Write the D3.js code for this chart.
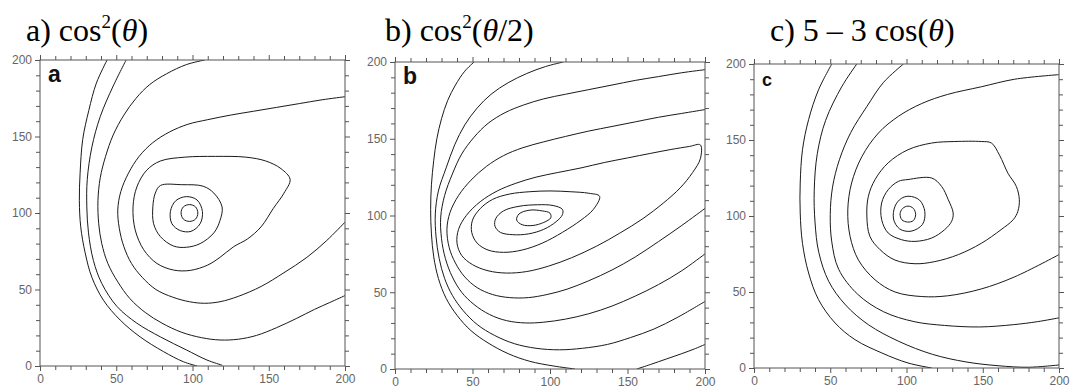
<!DOCTYPE html>
<html>
<head>
<meta charset="utf-8">
<script src="https://cdn.jsdelivr.net/npm/d3@7"></script>
<style>
  html, body { margin: 0; padding: 0; background: #fff; }
  svg { display: block; }
</style>
</head>
<body>
<div id="chart"></div>
<script>
// axis range shared by all three panels
const axisDomain = [0, 200];
const tickStep = 10;
const majorTicks = [0, 50, 100, 150, 200];

// ---- panel a: cos^2(theta) ----  contour lines, [x, y]
const a1 = [[44,200],[37,185],[32,167],[28,148],[26.3,126],[25.8,108],[26.7,91],[29.6,74],[34,58],[41.6,43],[52.6,30],[65.7,19],[81,9.4],[94,2.8],[103,0]];
const a2 = [[56.5,200],[48,183],[39.5,163],[34,143],[31,122],[30.7,104],[31.8,87],[35,69],[40.5,54],[50.4,39],[63.5,28],[79,19],[96,10.5],[109.5,3.9],[119.5,0.5]];
const a3 = [[108,200],[96,197],[83,191],[72,184],[63,175],[55,164],[48,151],[43,137],[39.5,123],[38,108],[38.5,93],[40.5,80],[44.5,67],[51,55],[59,44],[69,35],[80,28],[93,22],[106,18.5],[118,17],[130,17.5],[142,20],[155,25],[168,31],[180,37],[190,41.5],[200,46]];
const a4 = [[200,176],[185,174],[170,171.5],[155,169],[140,166.5],[125,164],[110,161],[97,158],[85,153],[74,146],[65,137],[58,126],[53,114],[51,102],[52,90],[55,78],[60,67],[67,58],[76,50],[87,45],[98,42],[108,41],[118,42],[130,45.5],[145,52],[160,61],[175,71],[188,82],[200,94]];
const a5 = [[79,134],[95,136.5],[115,137],[135,136.5],[148,134],[158,129],[164,122],[160,113],[153,103],[145,91],[136,83],[127,78],[118,71],[110,66],[98.6,62.5],[87.6,62.7],[76.7,67],[68,76],[62.4,89],[61,104],[63.5,117],[70,128]];
const a6 = [[79,118],[93,118.5],[107,117.5],[114,113],[119.4,104],[118,95],[114,87],[105,80],[96,77.6],[87.6,78.4],[79,84.5],[74.5,93],[74,104],[75.6,113]];
const a7 = [[96,110.7],[103,108.5],[106.5,101],[105,93],[99,88],[92,88.5],[86.5,93],[85.5,101],[89,108]];
const a8 = [[98,105.5],[102,104],[103.5,100],[102,96],[98,94.5],[94,96],[92.5,100],[94,104]];

// ---- panel b: cos^2(theta/2) ----
const b1 = [[51,200],[45,194],[39,185],[34,175],[30,163],[27,150],[25,136],[23.5,120],[23,104],[23.5,88],[25,73],[28,59],[33,46],[40,35],[49,25],[60,17],[73,10],[87,5],[102,2],[116,0]];
const b2 = [[108.5,200],[97,197],[85,192.5],[73,186.5],[62,179],[53,170],[45,159],[38.5,146],[33,131],[28,116],[26,101],[26.5,86],[28.5,72],[32,59],[37,48],[44,38],[53,29],[64,22],[77,16.5],[91,13.5],[106,12.5],[121,13.5],[137,16],[152,20.5],[167,26],[182,33.5],[200,44]];
const b3 = [[200,195],[185,193],[170,190.5],[155,188],[140,185],[125,182],[110,179],[96,176],[83,172],[71,167],[60,160],[51,151],[43,140],[37,127],[32,113],[29.5,99],[30,85],[32.5,72],[37,60],[43,50],[51,42],[61,35.5],[72,31.5],[84,30],[96,30.5],[110,32.5],[125,36],[140,41],[155,47.5],[170,55],[185,64],[200,75]];
const b4 = [[200,169],[185,166.5],[170,164],[155,161],[140,158],[125,155],[110,151.5],[96,148],[82,144],[70,139],[59,132],[49,123],[41,113],[35.5,102],[33.5,91],[35,79],[39,69],[45,60],[53,53],[63,48.5],[74,46.5],[86,46.5],[98,48.5],[111,52],[125,57.5],[140,64.5],[155,73],[170,83],[185,93.5],[200,104.6]];
const b5 = [[197,146],[190,145],[178,143],[165,140.5],[150,137.5],[135,134.5],[120,131],[105,128],[91,125],[78,121],[66,116],[55,109],[46,100],[41,91],[40,82],[43,74],[50,68],[60,64],[72,62.5],[85,63.5],[99,67],[114,72.5],[130,80],[145,88.5],[160,98],[173,108],[184,118],[192,128],[197,137]];
const b6 = [[132,112.5],[125,114.5],[113,115.5],[100,116],[87,115.5],[74,114],[63,110.5],[55,104.5],[50,97],[49.5,89],[53,82],[60,77.5],[70,76],[82,77.5],[95,82],[108,89],[120,97],[128,104]];
const b7 = [[108,104],[102,106.5],[92,107],[80,106],[70,103],[65,98],[64.5,93],[68,89],[76,87.5],[86,88],[96,91],[104,96],[108,100.5]];
const b8 = [[100,101.5],[95,103],[87,103.5],[80,101],[78.5,97],[82,94],[89,93.5],[96,95.5],[100.5,98.5]];
const b9 = [[156,0],[165,3],[175,6.5],[185,10],[193,13],[200,16]];

// ---- panel c: 5 - 3 cos(theta) ----
const c1 = [[51,200],[42.3,183],[35.8,163.4],[31.8,143.6],[30.3,121.7],[30.3,102],[31.8,82],[35.8,62.5],[42.3,45],[53.2,29.6],[66.3,18.6],[83.8,9.9],[101,3.3],[116.5,0]];
const c2 = [[67.4,200],[57.5,185],[47,163],[41.5,141],[39.5,117],[40,96],[42.5,76],[49,57],[60,41.5],[75,28.5],[95,17.5],[117,9],[139,4],[160,1.5],[180,0.5],[200,2]];
const c3 = [[98,200],[85,188],[74,172],[63.5,155],[56,137],[51.5,119],[50,101],[51,83],[55.5,65],[68,48.5],[85,37],[105,30.5],[125,28],[148,27],[170,28.5],[186,30.5],[200,33]];
const c4 = [[200,193],[171,190],[149,185],[127,180],[110,174],[94.7,165.6],[81.6,154.6],[70.7,139],[64,121.7],[61.5,104],[63,86.6],[68.5,71],[79.4,58],[92.5,50],[110,47],[127,47.5],[149,52],[171,60],[200,74.6]];
const c5 = [[149,149],[155.7,148],[161,140],[166.6,128],[172,119.5],[174,110.7],[173,103],[170,97.6],[162,91],[149,82],[134,74.6],[118.6,70],[105.6,68.6],[92.5,71],[82.7,77.8],[76,86.6],[74,100],[75,113],[79.4,124],[88,135],[101,143.6],[116.5,148],[131.7,149]];
const c6 = [[101,124],[116.5,125],[123,119.5],[127.4,110.7],[130.6,102],[129.6,96.5],[125,91],[116.5,85.5],[105.6,83.3],[96.8,84.4],[88,88.8],[83.7,97.6],[83.7,108.6],[88,117.3],[94.7,122.8]];
const c7 = [[101.6,113],[108.5,110.5],[112,103],[110.5,94.5],[103,90],[95.5,91.5],[91.5,98],[92.5,106.5],[96.5,111.5]];
const c8 = [[101,106.5],[104.5,105],[106,101],[104.5,97],[100.8,96],[97,97.5],[95.8,101.5],[97.5,105]];

const panelA = { open: [a1, a2, a3, a4], closed: [a5, a6, a7, a8] };
const panelB = { open: [b1, b2, b3, b4, b9], closed: [b5, b6, b7, b8] };
const panelC = { open: [c1, c2, c3, c4], closed: [c5, c6, c7, c8] };

const W = 1071, H = 389;

const svg = d3.select('#chart').append('svg')
  .attr('width', W)
  .attr('height', H);

const panels = [
  { id: 'a', box: { left: 40, right: 345, top: 60, bottom: 366 }, data: panelA,
    title: [{ t: 'a) cos' }, { t: '2', sup: true }, { t: '(' }, { t: '\u03b8', it: true }, { t: ')' }],
    titleX: 26, letterSize: 23 },
  { id: 'b', box: { left: 395, right: 705, top: 62, bottom: 369 }, data: panelB,
    title: [{ t: 'b) cos' }, { t: '2', sup: true }, { t: '(' }, { t: '\u03b8', it: true }, { t: '/2)' }],
    titleX: 385, letterSize: 23 },
  { id: 'c', box: { left: 754, right: 1059, top: 64, bottom: 368 }, data: panelC,
    title: [{ t: 'c) 5 \u2013 3 cos(' }, { t: '\u03b8', it: true }, { t: ')' }],
    titleX: 770, letterSize: 18 }
];

const allTicks = d3.range(axisDomain[0], axisDomain[1] + 1, tickStep);
const minorTicks = allTicks.filter(v => !majorTicks.includes(v));

panels.forEach(p => {
  const b = p.box;
  const x = d3.scaleLinear().domain(axisDomain).range([b.left, b.right]);
  const y = d3.scaleLinear().domain(axisDomain).range([b.bottom, b.top]);

  const g = svg.append('g').attr('class', 'panel-' + p.id);

  // clip contours to the plot square
  svg.append('clipPath').attr('id', 'clip-' + p.id)
    .append('rect')
    .attr('x', b.left).attr('y', b.top)
    .attr('width', b.right - b.left).attr('height', b.bottom - b.top);

  const openLine = d3.line().x(d => x(d[0])).y(d => y(d[1])).curve(d3.curveCatmullRom);
  const closedLine = d3.line().x(d => x(d[0])).y(d => y(d[1])).curve(d3.curveCatmullRomClosed);

  const cg = g.append('g').attr('clip-path', 'url(#clip-' + p.id + ')');
  cg.selectAll('path.open').data(p.data.open).enter().append('path')
    .attr('class', 'open')
    .attr('d', openLine)
    .attr('fill', 'none')
    .attr('stroke', '#1a1a1a')
    .attr('stroke-width', 1);
  cg.selectAll('path.closed').data(p.data.closed).enter().append('path')
    .attr('class', 'closed')
    .attr('d', closedLine)
    .attr('fill', 'none')
    .attr('stroke', '#1a1a1a')
    .attr('stroke-width', 1);

  // axes: minor + major ticks on all four sides, labels bottom and left only
  const axes = [
    { gen: d3.axisBottom, scale: x, tr: `translate(0,${b.bottom})`, labels: true },
    { gen: d3.axisLeft, scale: y, tr: `translate(${b.left},0)`, labels: true },
    { gen: d3.axisTop, scale: x, tr: `translate(0,${b.top})`, labels: false },
    { gen: d3.axisRight, scale: y, tr: `translate(${b.right},0)`, labels: false }
  ];
  axes.forEach(a => {
    g.append('g').attr('transform', a.tr)
      .call(a.gen(a.scale).tickValues(minorTicks).tickSize(4).tickFormat(''))
      .call(s => s.select('.domain').remove());
    const major = g.append('g').attr('transform', a.tr)
      .call(a.gen(a.scale).tickValues(majorTicks).tickSize(5).tickPadding(3)
        .tickFormat(a.labels ? d3.format('d') : ''))
      .call(s => s.select('.domain').remove());
    major.selectAll('text')
      .attr('font-family', '"Liberation Sans", Arial, sans-serif')
      .attr('font-size', 12)
      .attr('fill', '#666');
  });
  g.selectAll('.tick line').attr('stroke', '#555');

  g.append('rect')
    .attr('x', b.left).attr('y', b.top)
    .attr('width', b.right - b.left).attr('height', b.bottom - b.top)
    .attr('fill', 'none')
    .attr('stroke', '#555')
    .attr('stroke-width', 1);

  // panel letter
  g.append('text')
    .attr('x', b.left + 8)
    .attr('y', b.top + 22)
    .attr('font-family', '"Liberation Sans", Arial, sans-serif')
    .attr('font-weight', 'bold')
    .attr('font-size', p.letterSize)
    .attr('fill', '#111')
    .text(p.id);

  // title
  const title = svg.append('text')
    .attr('x', p.titleX)
    .attr('y', 41)
    .attr('font-family', '"Liberation Serif", "Times New Roman", serif')
    .attr('font-size', 32)
    .attr('fill', '#000');
  let raised = false;
  p.title.forEach(part => {
    const ts = title.append('tspan').text(part.t);
    if (part.sup) {
      ts.attr('font-size', 19).attr('dy', -13);
      raised = true;
    } else if (raised) {
      ts.attr('dy', 13);
      raised = false;
    }
    if (part.it) ts.attr('font-style', 'italic');
  });
});
</script>
</body>
</html>
